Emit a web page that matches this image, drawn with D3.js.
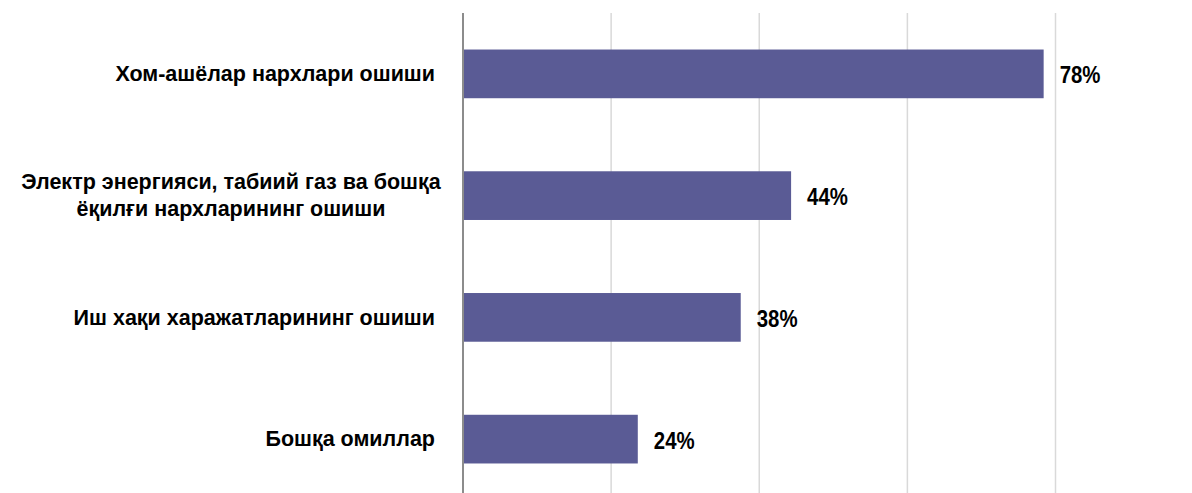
<!DOCTYPE html>
<html>
<head>
<meta charset="utf-8">
<script src="https://cdn.jsdelivr.net/npm/d3@7"></script>
<style>
  html, body { margin: 0; padding: 0; background: #fff; }
  svg { display: block; }
  text { font-family: "Liberation Sans", Arial, sans-serif; font-weight: bold; fill: #000; }
</style>
</head>
<body>
<svg id="chart" width="1192" height="493"></svg>
<script>
const categories = [
  ["Хом-ашёлар нархлари ошиши"],
  ["Электр энергияси, табиий газ ва бошқа", "ёқилғи нархларининг ошиши"],
  ["Иш хақи харажатларининг ошиши"],
  ["Бошқа омиллар"]
];
const values = [78.4, 44.3, 37.5, 23.6];
const valueLabels = ["78%", "44%", "38%", "24%"];
const gridTicks = [20, 40, 60, 80];

const svg = d3.select("#chart");
const W = 1192, H = 493;
const x0 = 463, x1 = 1055.5;
const yTop = 13, yBottom = 500;

const x = d3.scaleLinear().domain([0, 80]).range([x0, x1]);
const y = d3.scaleBand().domain(d3.range(categories.length)).range([yTop, yBottom]).paddingInner(0.6).paddingOuter(0.3);

// gridlines
svg.append("g").selectAll("line").data(gridTicks).join("line")
  .attr("x1", d => x(d)).attr("x2", d => x(d))
  .attr("y1", yTop).attr("y2", H)
  .attr("stroke", "#d9d9d9").attr("stroke-width", 1.5);

// bars
svg.append("g").selectAll("rect").data(values).join("rect")
  .attr("x", x(0))
  .attr("y", (d, i) => y(i))
  .attr("width", d => x(d) - x(0))
  .attr("height", y.bandwidth())
  .attr("fill", "#5a5b95");

// axis line
svg.append("line")
  .attr("x1", x(0)).attr("x2", x(0))
  .attr("y1", yTop).attr("y2", H)
  .attr("stroke", "#8c8c8c").attr("stroke-width", 2);

// value labels (condensed)
svg.append("g").selectAll("text").data(values).join("text")
  .attr("transform", (d, i) => `translate(${x(d) + 16},${y(i) + y.bandwidth() / 2 + 9.5}) scale(0.85,1)`)
  .attr("font-size", 24)
  .text((d, i) => valueLabels[i]);

// category labels
const labelRight = 435, labelCenter = 231, lineH = 27;
const cg = svg.append("g");
categories.forEach((lines, i) => {
  const cy = y(i) + y.bandwidth() / 2;
  const t = cg.append("text")
    .attr("font-size", 21.5)
    .attr("text-anchor", lines.length > 1 ? "middle" : "end");
  lines.forEach((ln, j) => {
    t.append("tspan")
      .attr("x", lines.length > 1 ? labelCenter : labelRight)
      .attr("y", cy + (j - (lines.length - 1) / 2) * lineH + 7.2)
      .text(ln);
  });
});
</script>
</body>
</html>
